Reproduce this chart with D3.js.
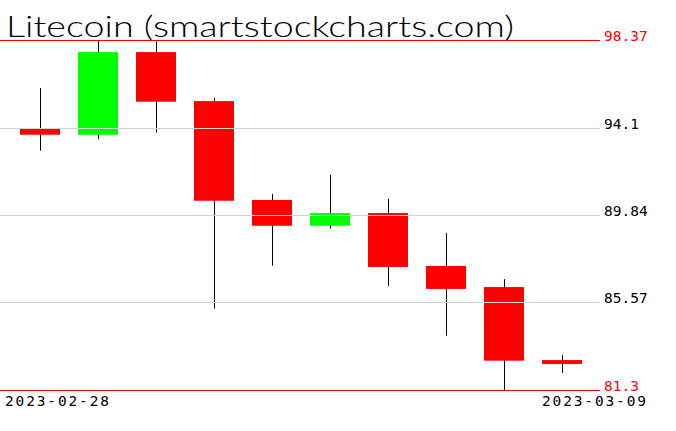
<!DOCTYPE html>
<html>
<head>
<meta charset="utf-8">
<script src="https://cdn.jsdelivr.net/npm/d3@7"></script>
<style>
  body { margin: 0; background: #fff; }
  svg { display: block; }
</style>
</head>
<body>
<div id="chart"></div>
<script>
// Litecoin daily candles
var dates = ["2023-02-28", "2023-03-01", "2023-03-02", "2023-03-03", "2023-03-04",
             "2023-03-05", "2023-03-06", "2023-03-07", "2023-03-08", "2023-03-09"];
var opens  = [94.04, 93.75, 97.78, 95.39, 90.57, 89.31, 89.93, 87.35, 86.32, 82.76];
var highs  = [96.03, 98.37, 98.30, 95.54, 90.86, 91.79, 90.62, 88.96, 86.71, 83.01];
var lows   = [92.97, 93.53, 93.85, 85.27, 87.36, 89.17, 86.37, 83.95, 81.30, 82.14];
var closes = [93.75, 97.78, 95.36, 90.53, 89.31, 89.93, 87.30, 86.23, 82.73, 82.57];
var priceTicks = [98.37, 94.1, 89.84, 85.57, 81.3];

var width = 676, height = 431;

var candles = dates.map(function(d, i) {
    return { date: d, open: opens[i], high: highs[i], low: lows[i], close: closes[i] };
});

var svg = d3.select("#chart")
    .append("svg")
    .attr("width", width)
    .attr("height", height);

// scales
var x = d3.scalePoint()
    .domain(dates)
    .range([40, 562]);
var y = d3.scaleLinear()
    .domain([81.3, 98.37])
    .range([390, 40]);
var bodyW = 40;

// title (thin, wide lettering)
svg.append("text")
    .attr("x", 6)
    .attr("y", 37)
    .attr("font-family", "Lato, 'DejaVu Sans'")
    .attr("font-weight", 300)
    .attr("font-size", "30px")
    .attr("fill", "black")
    .attr("textLength", 508)
    .attr("lengthAdjust", "spacingAndGlyphs")
    .text("Litecoin (smartstockcharts.com)");

// wicks
svg.selectAll(".wick")
    .data(candles)
    .enter()
    .append("line")
    .attr("class", "wick")
    .attr("x1", d => Math.round(x(d.date)) + 0.5)
    .attr("x2", d => Math.round(x(d.date)) + 0.5)
    .attr("y1", d => y(d.high))
    .attr("y2", d => y(d.low))
    .attr("stroke", "black")
    .attr("stroke-width", 1);

// bodies
svg.selectAll(".body")
    .data(candles)
    .enter()
    .append("rect")
    .attr("class", "body")
    .attr("x", d => Math.round(x(d.date)) - bodyW / 2)
    .attr("y", d => y(Math.max(d.open, d.close)))
    .attr("width", bodyW)
    .attr("height", d => Math.max(1, y(Math.min(d.open, d.close)) - y(Math.max(d.open, d.close))))
    .attr("fill", d => d.close >= d.open ? "#00ff00" : "#ff0000");

// grid lines sit on top of the candles
var isEdge = d => d === priceTicks[0] || d === priceTicks[priceTicks.length - 1];
svg.selectAll(".grid")
    .data(priceTicks)
    .enter()
    .append("line")
    .attr("class", "grid")
    .attr("x1", 0)
    .attr("x2", 600)
    .attr("y1", d => Math.round(y(d)) + 0.5)
    .attr("y2", d => Math.round(y(d)) + 0.5)
    .attr("stroke", d => isEdge(d) ? "#ff0000" : "#d3d3d3")
    .attr("stroke-width", 1);

// price labels
svg.selectAll(".plabel")
    .data(priceTicks)
    .enter()
    .append("text")
    .attr("class", "plabel")
    .attr("x", 604)
    .attr("y", d => Math.round(y(d)) + 1)
    .attr("font-family", "DejaVu Sans Mono")
    .attr("font-size", "14.5px")
    .attr("fill", d => isEdge(d) ? "#ff0000" : "black")
    .text(d => d);

// first and last date
svg.append("text")
    .attr("x", 5)
    .attr("y", 406)
    .attr("font-family", "DejaVu Sans Mono")
    .attr("font-size", "14.5px")
    .attr("textLength", 104)
    .attr("lengthAdjust", "spacing")
    .text(dates[0]);
svg.append("text")
    .attr("x", 542)
    .attr("y", 406)
    .attr("font-family", "DejaVu Sans Mono")
    .attr("font-size", "14.5px")
    .attr("textLength", 104)
    .attr("lengthAdjust", "spacing")
    .text(dates[dates.length - 1]);
</script>
</body>
</html>
